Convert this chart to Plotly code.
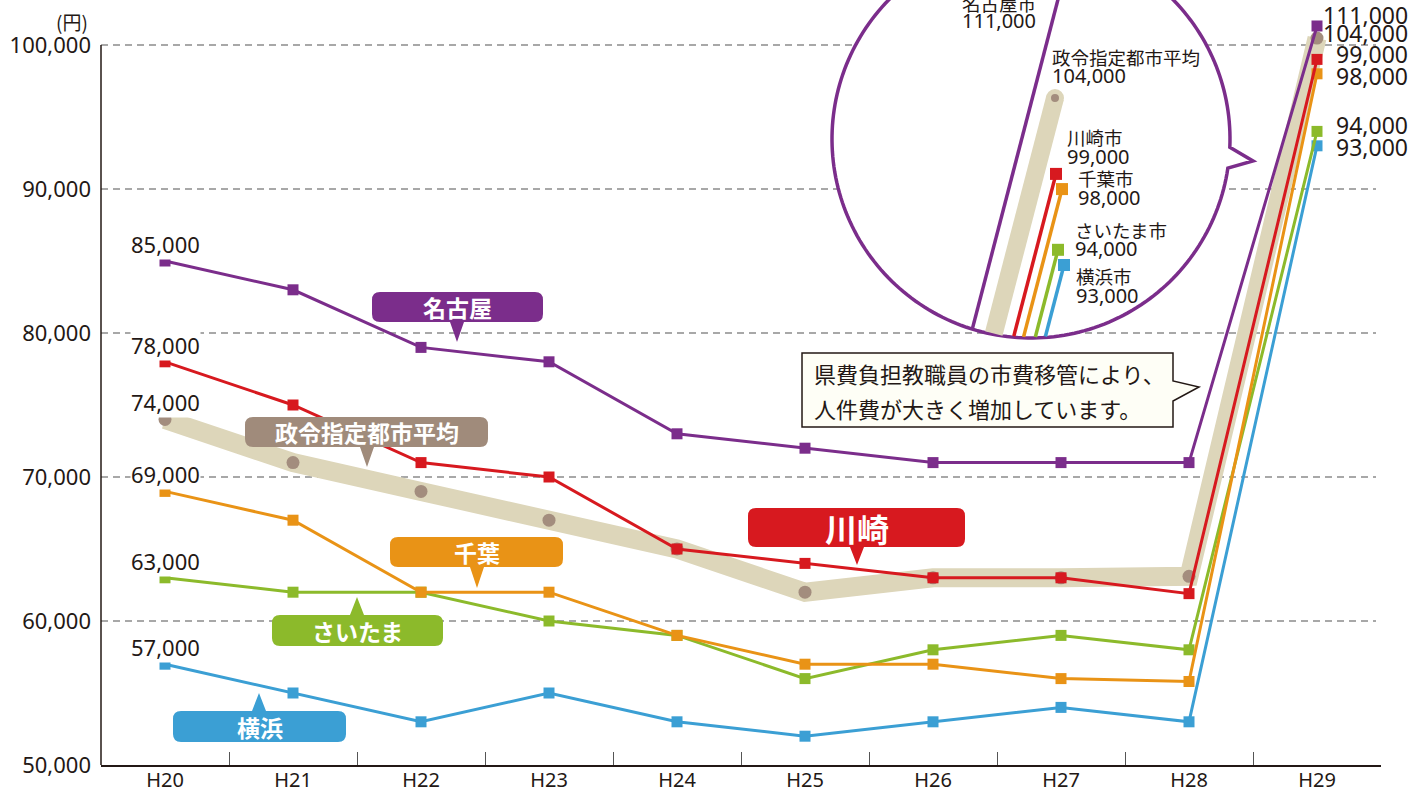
import numpy as np
import plotly.graph_objects as go

# ---------------- data ----------------
years = ["H20", "H21", "H22", "H23", "H24", "H25", "H26", "H27", "H28", "H29"]
nagoya = [85000, 83000, 79000, 78000, 73000, 72000, 71000, 71000, 71000, 111000]
seirei_avg = [74000, 71000, 69000, 67000, 65000, 62000, 63000, 63000, 63100, 104000]
kawasaki = [78000, 75000, 71000, 70000, 65000, 64000, 63000, 63000, 61900, 99000]
chiba = [69000, 67000, 62000, 62000, 59000, 57000, 57000, 56000, 55800, 98000]
saitama = [63000, 62000, 62000, 60000, 59000, 56000, 58000, 59000, 58000, 94000]
yokohama = [57000, 55000, 53000, 55000, 53000, 52000, 53000, 54000, 53000, 93000]
y_ticks = [50000, 60000, 70000, 80000, 90000, 100000]
inset_names = ["名古屋市", "政令指定都市平均", "川崎市", "千葉市", "さいたま市", "横浜市"]
callout_texts = ["名古屋", "政令指定都市平均", "川崎", "千葉", "さいたま", "横浜"]
note_lines = ["県費負担教職員の市費移管により、", "人件費が大きく増加しています。"]
unit_label = "(円)"

# ---------------- style ----------------
FONT = "Noto Sans, Noto Sans CJK JP"
JFONT = "Noto Sans CJK JP"
DARK = "#231815"
PURPLE = "#7b2d8b"
RED = "#d7191f"
ORANGE = "#e99316"
GREEN = "#8cba2b"
BLUE = "#3b9fd4"
BEIGE = "#ddd6ba"
BROWN = "#a38d7e"
BOXBROWN = "#a08b7b"
W, H = 1427, 792
L, R, T, B = 101, 46, 0, 27
PW, PH = W - L - R, H - T - B

BREAK, K = 100000, 0.12  # broken axis above 100,000


def disp(v):
    return v if v <= BREAK else BREAK + (v - BREAK) * K


def pxx(x):
    return (x - L) / PW


def pxy(y):
    return (PH - y) / PH


fig = go.Figure()

# ---- main chart ----
fig.add_trace(go.Scatter(x=years, y=[disp(v) for v in seirei_avg], mode="lines",
                         line=dict(color=BEIGE, width=19), hoverinfo="skip", showlegend=False))
fig.add_trace(go.Scatter(x=years, y=[disp(v) for v in seirei_avg], mode="markers",
                         marker=dict(color=BROWN, size=13), showlegend=False, name="政令指定都市平均"))
main_series = [(yokohama, BLUE, "横浜"), (saitama, GREEN, "さいたま"), (chiba, ORANGE, "千葉"),
               (kawasaki, RED, "川崎"), (nagoya, PURPLE, "名古屋")]
for vals, col, nm in main_series:
    fig.add_trace(go.Scatter(x=years, y=[disp(v) for v in vals], mode="lines+markers", name=nm,
                             line=dict(color=col, width=3),
                             marker=dict(symbol="square", size=11, color=col), showlegend=False))

# ---- inset (magnified H28 -> H29) ----
CX, CY, CR = 1031, 139, 199
INSET_SCALE = 15.18 / 1000  # px per yen
INSET_REF_V, INSET_REF_PY = 104000, 98
SLOPE = 0.26


def inset_py(v):
    return INSET_REF_PY + (INSET_REF_V - v) * INSET_SCALE


def inset_v(p):
    return INSET_REF_V - (p - INSET_REF_PY) / INSET_SCALE


inset_vals = [nagoya[-1], seirei_avg[-1], kawasaki[-1], chiba[-1], saitama[-1], yokohama[-1]]
inset_cols = [PURPLE, None, RED, ORANGE, GREEN, BLUE]
inset_end_x = [1060, 1055, 1056, 1062, 1058, 1064]
# label offsets: (xanchor, xshift, name line pixel-y, value line pixel-y)
inset_lab = [("right", -22, 3, 20), ("left", -5, 57, 75), ("left", 9, 137, 156),
             ("left", 14, 178, 197), ("left", 15, 230, 248), ("left", 10, 276, 295)]

for i, v in enumerate(inset_vals):
    xe, ye = inset_end_x[i], inset_py(v)
    dx0, dy0 = xe - CX, ye - CY
    a = 1 + SLOPE ** 2
    b = 2 * (-SLOPE * dx0 + dy0)
    c = dx0 ** 2 + dy0 ** 2 - CR ** 2
    t = (-b + np.sqrt(b * b - 4 * a * c)) / (2 * a) - 1
    xs, ys = xe - SLOPE * t, ye + t
    if inset_cols[i] is None:
        fig.add_trace(go.Scatter(x=[xs, xe], y=[inset_v(ys), v], xaxis="x2", yaxis="y2", mode="lines",
                                 line=dict(color=BEIGE, width=18), showlegend=False, hoverinfo="skip"))
        fig.add_trace(go.Scatter(x=[xe], y=[v], xaxis="x2", yaxis="y2", mode="markers",
                                 marker=dict(color=BROWN, size=13, line=dict(color=BEIGE, width=5)),
                                 showlegend=False))
    else:
        fig.add_trace(go.Scatter(x=[xs, xe], y=[inset_v(ys), v], xaxis="x2", yaxis="y2",
                                 mode="lines", line=dict(color=inset_cols[i], width=3.5),
                                 showlegend=False, hoverinfo="skip"))
        fig.add_trace(go.Scatter(x=[xe], y=[v], xaxis="x2", yaxis="y2", mode="markers",
                                 marker=dict(symbol="square", size=12, color=inset_cols[i], opacity=1),
                                 showlegend=False))
    # label anchored at the visible part of the line end (clamped into the inset's range)
    anchor_py = max(ye, 1.0)
    anchor_v = inset_v(anchor_py)
    xa, xsft, py1, py2 = inset_lab[i]
    for txt, lpy, fs in ((inset_names[i], py1, 18.5), (f"{v:,}", py2, 20)):
        fig.add_annotation(x=xe, y=anchor_v, xref="x2", yref="y2", text=txt, showarrow=False,
                           xanchor=xa, yanchor="middle", xshift=xsft, yshift=anchor_py - lpy,
                           font=dict(family=FONT, size=fs, color=DARK))

# ---------------- shapes ----------------
shapes = []
# dashed gridlines
for v in y_ticks[1:]:
    shapes.append(dict(type="line", xref="paper", yref="y", x0=0, x1=pxx(1376), y0=v, y1=v,
                       line=dict(color="#8c8c8c", width=1.3, dash="7px,5px"), layer="below"))
# y-axis line
shapes.append(dict(type="line", xref="paper", yref="y", x0=0, x1=0, y0=y_ticks[0], y1=y_ticks[-1],
                   line=dict(color=DARK, width=1.5), layer="below"))

# magnifier circle with pointer
ang = np.radians(np.arange(8.4, 362.6, 1.5))
pts = [(CX + CR * np.cos(t), CY + CR * np.sin(t)) for t in ang] + [(1253, 161)]
path = "M " + " L ".join(f"{pxx(x):.5f},{pxy(y):.5f}" for x, y in pts) + " Z"
shapes.append(dict(type="path", xref="paper", yref="paper", path=path, fillcolor="white",
                   line=dict(color=PURPLE, width=3.5), layer="below"))


def callout_path(x0, y0, x1, y1, tip, up=False, r=8, hw=7):
    tx, ty = tip
    P = lambda x, y: f"{pxx(x):.5f},{pxy(y):.5f}"
    s = f"M {P(x0 + r, y0)} "
    if up:
        s += f"L {P(tx - hw, y0)} L {P(tx, ty)} L {P(tx + hw, y0)} "
    s += f"L {P(x1 - r, y0)} Q {P(x1, y0)} {P(x1, y0 + r)} L {P(x1, y1 - r)} Q {P(x1, y1)} {P(x1 - r, y1)} "
    if not up:
        s += f"L {P(tx + hw, y1)} L {P(tx, ty)} L {P(tx - hw, y1)} "
    s += f"L {P(x0 + r, y1)} Q {P(x0, y1)} {P(x0, y1 - r)} L {P(x0, y0 + r)} Q {P(x0, y0)} {P(x0 + r, y0)} Z"
    return s


callout_style = [
    (PURPLE, (372, 292, 543, 322), (457, 342), False, 23),
    (BOXBROWN, (245, 417, 488, 447), (367, 467), False, 23),
    (RED, (748, 508, 965, 547), (857, 565), False, 32),
    (ORANGE, (390, 537, 563, 567), (477, 588), False, 23),
    (GREEN, (272, 615, 443, 646), (357, 597), True, 23),
    (BLUE, (173, 711, 346, 742), (259, 693), True, 23),
]
for txt, (col, (x0, y0, x1, y1), tip, up, fs) in zip(callout_texts, callout_style):
    shapes.append(dict(type="path", xref="paper", yref="paper", path=callout_path(x0, y0, x1, y1, tip, up),
                       fillcolor=col, line=dict(width=0), layer="above"))
    fig.add_annotation(x=pxx((x0 + x1) / 2), y=pxy((y0 + y1) / 2), xref="paper", yref="paper",
                       text=f"<b>{txt}</b>", showarrow=False, xanchor="center", yanchor="middle",
                       font=dict(family=JFONT, size=fs, color="white"))

# note box
note_pts = [(802, 353), (1173, 353), (1173, 381), (1199, 387), (1173, 401), (1173, 427), (802, 427)]
note_path = "M " + " L ".join(f"{pxx(x):.5f},{pxy(y):.5f}" for x, y in note_pts) + " Z"
shapes.append(dict(type="path", xref="paper", yref="paper", path=note_path, fillcolor="#fefef6",
                   line=dict(color=DARK, width=1.5), layer="above"))
for line_txt, yy in zip(note_lines, (373, 408)):
    fig.add_annotation(x=pxx(812), y=pxy(yy), xref="paper", yref="paper", text=line_txt,
                       showarrow=False, xanchor="left", yanchor="middle",
                       font=dict(family=JFONT, size=22, color=DARK))

# ---------------- value labels ----------------
left_series = [nagoya, kawasaki, seirei_avg, chiba, saitama, yokohama]
for vals in left_series:
    fig.add_annotation(x=0, y=disp(vals[0]), xref="x", yref="y", text=f"{vals[0]:,}", showarrow=False,
                       xanchor="center", yanchor="middle", yshift=17, bgcolor="white", borderpad=0,
                       font=dict(family=FONT, size=22, color=DARK))
right_series = [(nagoya, 11), (seirei_avg, 5), (kawasaki, 5), (chiba, -2), (saitama, 6), (yokohama, -1)]
for vals, ysh in right_series:
    fig.add_annotation(x=9, y=disp(vals[-1]), xref="x", yref="y", text=f"{vals[-1]:,}", showarrow=False,
                       xanchor="right", yanchor="middle", xshift=93, yshift=ysh,
                       font=dict(family=FONT, size=23, color=DARK))

fig.add_annotation(x=pxx(72), y=pxy(21), xref="paper", yref="paper", text=unit_label, showarrow=False,
                   xanchor="center", yanchor="middle", font=dict(family=JFONT, size=19, color=DARK))

# ---------------- layout ----------------
fig.update_layout(
    width=W, height=H, margin=dict(l=L, r=R, t=T, b=B, autoexpand=False),
    paper_bgcolor="white", plot_bgcolor="rgba(0,0,0,0)",
    showlegend=False, shapes=shapes,
    font=dict(family=FONT, color=DARK),
    xaxis=dict(type="category", range=[-0.5, 9.5], showgrid=False, zeroline=False, automargin=False,
               showline=True, linecolor=DARK, linewidth=1.5,
               ticks="inside", tickson="boundaries", ticklen=13, tickcolor="#555555", tickwidth=1.2,
               ticklabelstandoff=-4,
               tickfont=dict(family=FONT, size=20, color=DARK)),
    yaxis=dict(range=[50000, 50000 + PH / 14.4 * 1000], showgrid=False, zeroline=False, automargin=False,
               showline=False, tickvals=y_ticks, ticktext=[f"{v:,}" for v in y_ticks],
               ticks="", ticklabelstandoff=9,
               tickfont=dict(family=FONT, size=22, color=DARK)),
    xaxis2=dict(domain=[pxx(833), pxx(1230)], range=[833, 1230], visible=False, anchor="y2"),
    yaxis2=dict(domain=[pxy(338), 1.0], range=[inset_v(338), inset_v(0)], visible=False, anchor="x2"),
)

fig.write_html("out.html", config={"displayModeBar": False},
               post_script="document.body.style.margin='0';document.body.style.overflow='hidden';")
